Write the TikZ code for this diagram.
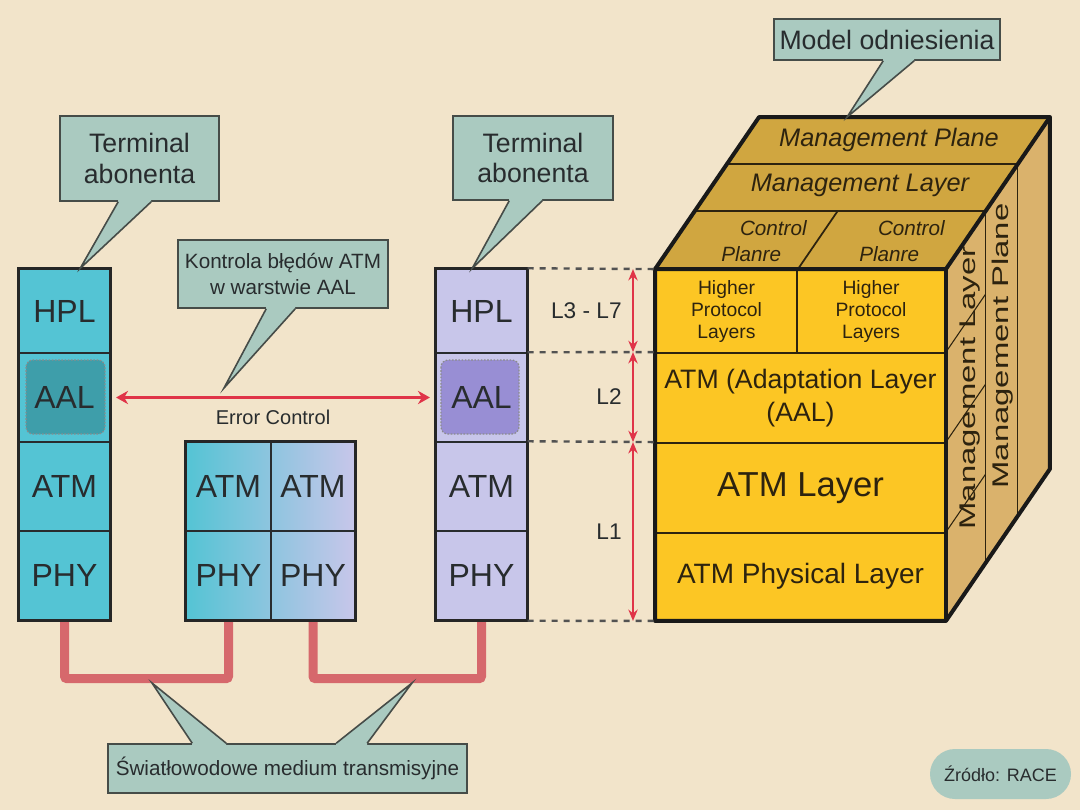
\documentclass[tikz,border=0pt]{standalone}
\usepackage{fontspec}
\setmainfont{Liberation Sans}
\usetikzlibrary{arrows.meta,calc,backgrounds}
\definecolor{bgbeige}{RGB}{242,228,202}
\definecolor{callfill}{RGB}{170,202,192}
\definecolor{calldraw}{RGB}{70,76,72}
\definecolor{tealcell}{RGB}{84,196,212}
\definecolor{tealdark}{RGB}{62,158,170}
\definecolor{lavcell}{RGB}{200,198,234}
\definecolor{lavdark}{RGB}{152,142,212}
\definecolor{cubefront}{RGB}{252,198,36}
\definecolor{cubetop}{RGB}{208,166,64}
\definecolor{cubeside}{RGB}{218,178,108}
\definecolor{errred}{RGB}{224,52,72}
\definecolor{fiberred}{RGB}{214,104,108}
\definecolor{inkgray}{RGB}{40,44,46}
\definecolor{cubeink}{RGB}{45,35,15}
\colorlet{tealmid}{tealcell!50!lavcell}
\newcommand{\pw}{0.75pt}
\newcommand{\fsz}[2]{\fontsize{#1}{#2}\selectfont}
% callout tail: node anchor, base x1, base x2, tip, inward shift
\newcommand{\calltail}[5]{%
  \fill[callfill] ($(#1)+(#2,#5)$) -- ($(#1)+(#2,0)$) -- (#4) -- ($(#1)+(#3,0)$) -- ($(#1)+(#3,#5)$) -- cycle;
  \draw[calltip] ($(#1)+(#2,0)$) -- (#4) -- ($(#1)+(#3,0)$);}
\tikzset{
  cell/.style={draw=inkgray, line width=1.1pt, minimum width=91*\pw, inner sep=0pt, text=inkgray, font=\fsz{24pt}{28pt}},
  rowplain/.style={},
  aalrim/.style={draw=black!45, line width=0.9pt, dash pattern=on 1.2pt off 1.2pt, rounded corners=7*\pw},
  aalleft/.style={path picture={\draw[aalrim, fill=tealdark] ([xshift=7*\pw,yshift=-7*\pw]path picture bounding box.north west) rectangle ([xshift=-5*\pw,yshift=8*\pw]path picture bounding box.south east);}},
  aalright/.style={path picture={\draw[aalrim, fill=lavdark] ([xshift=5*\pw,yshift=-7*\pw]path picture bounding box.north west) rectangle ([xshift=-8*\pw,yshift=8*\pw]path picture bounding box.south east);}},
  stackrim/.style={draw=black!85, line width=2.6pt},
  cubecell/.style={draw=cubeink, line width=1.4pt, fill=cubefront, inner sep=0pt, text=cubeink, align=center},
  cubeline/.style={draw=cubeink, line width=1.3pt},
  sideline/.style={draw=cubeink, line width=0.8pt},
  cuberim/.style={draw=black!90, line width=3pt, line join=round},
  topfont/.style={text=cubeink, font=\fsz{19pt}{22pt}\itshape, inner sep=0pt},
  sidefont/.style={text=cubeink, font=\fsz{17pt}{20pt}, inner sep=0pt, rotate=90},
  callbox/.style={draw=calldraw, fill=callfill, line width=1.2pt, inner sep=0pt, text=inkgray, align=center},
  calltip/.style={draw=calldraw, line width=1.2pt, line join=miter},
  pill/.style={fill=callfill, inner sep=0pt, text=inkgray, font=\fsz{13.5pt}{16pt}},
  guide/.style={draw=black!68, line width=1.8pt, dash pattern=on 4.5pt off 4.5pt},
  levarr/.style={{Stealth[length=8.5pt,width=7pt]}-{Stealth[length=8.5pt,width=7pt]}, errred, line width=1.3pt},
  errarr/.style={{Stealth[length=9pt,width=10pt]}-{Stealth[length=9pt,width=10pt]}, errred, line width=2.2pt},
  fiber/.style={draw=fiberred, line width=6.75pt, rounded corners=2pt},
  levlab/.style={text=inkgray, font=\fsz{17pt}{20pt}},
}
\begin{document}
\begin{tikzpicture}[x=0.75pt, y=-0.75pt]
\useasboundingbox (0,0) rectangle (1080,810);

% the two terminals
\foreach \lab/\ya/\yb/\sty in {HPL/269/353/rowplain, AAL/353/442/aalleft, ATM/442/531/rowplain, PHY/531/620/rowplain}
  \node[cell, fill=tealcell, \sty, minimum height={(\yb-\ya)*\pw}] (l\lab) at (64.5,{(\ya+\yb)/2}) {\lab};
\foreach \lab/\ya/\yb/\sty in {HPL/269/353/rowplain, AAL/353/442/aalright, ATM/442/531/rowplain, PHY/531/620/rowplain}
  \node[cell, fill=lavcell, \sty, minimum height={(\yb-\ya)*\pw}] (r\lab) at (481.5,{(\ya+\yb)/2}) {\lab};
\draw[stackrim] (lHPL.north west) rectangle (lPHY.south east);
\draw[stackrim] (rHPL.north west) rectangle (rPHY.south east);

% switch in the middle
\node[cell, minimum width=85*\pw, minimum height=89*\pw, left color=tealcell, right color=tealmid] (mATMa) at (228.5,486.5) {ATM};
\node[cell, minimum width=84*\pw, minimum height=89*\pw, left color=tealmid, right color=lavcell] (mATMb) at (313,486.5) {ATM};
\node[cell, minimum width=85*\pw, minimum height=89*\pw, left color=tealcell, right color=tealmid] (mPHYa) at (228.5,575.5) {PHY};
\node[cell, minimum width=84*\pw, minimum height=89*\pw, left color=tealmid, right color=lavcell] (mPHYb) at (313,575.5) {PHY};
\draw[stackrim] (mATMa.north west) rectangle (mPHYb.south east);

% reference model cube
\node[cubecell, minimum width=141*\pw, minimum height=83*\pw, font=\fsz{14.5pt}{16.5pt}] (cHPa) at (726.5,311.5) {Higher\\Protocol\\Layers};
\node[cubecell, minimum width=148*\pw, minimum height=83*\pw, font=\fsz{14.5pt}{16.5pt}] (cHPb) at (871,311.5) {Higher\\Protocol\\Layers};
\node[cubecell, minimum width=289*\pw, minimum height=90*\pw, font=\fsz{20pt}{25pt}] (cAAL) at (800.5,398) {ATM (Adaptation Layer\\(AAL)};
\node[cubecell, minimum width=289*\pw, minimum height=90*\pw, font=\fsz{26pt}{30pt}] (cATM) at (800.5,488) {ATM Layer};
\node[cubecell, minimum width=289*\pw, minimum height=87*\pw, font=\fsz{21pt}{24pt}] (cPHY) at (800.5,576.5) {ATM Physical Layer};
\coordinate (dp) at (104,-152);
\fill[cubetop] (cHPa.north west) -- ++(dp) -- ($(cHPb.north east)+(dp)$) -- (cHPb.north east) -- cycle;
\fill[cubeside] (cHPb.north east) -- ++(dp) -- ($(cPHY.south east)+(dp)$) -- (cPHY.south east) -- cycle;
\foreach \t in {0.38,0.69} {
  \draw[cubeline] ($(cHPa.north west)+\t*(dp)$) -- ($(cHPb.north east)+\t*(dp)$);
  \draw[sideline] ($(cHPb.north east)+\t*(dp)$) -- ($(cPHY.south east)+\t*(dp)$);
}
\draw[cubeline] (cHPa.north east) -- ($(cHPa.north east)+0.38*(dp)$);
\foreach \c in {cAAL,cATM,cPHY}
  \draw[sideline] (\c.north east) -- ($(\c.north east)+0.38*(dp)$);
\draw[cuberim] (cHPa.north west) -- ++(dp) -- ($(cHPb.north east)+(dp)$) -- ($(cPHY.south east)+(dp)$) -- (cPHY.south east) -- (cPHY.south west) -- cycle;
\draw[cuberim] (cHPa.north west) -- (cHPb.north east) -- ++(dp);
\draw[cuberim] (cHPb.north east) -- (cPHY.south east);
\node[topfont] (tMP) at (889,140) {Management Plane};
\node[topfont] (tML) at (860,185) {Management Layer};
\node[topfont, font=\fsz{15.5pt}{19pt}\itshape, align=left] (tCPa) at (764,241) {\hspace*{14pt}Control\\Planre};
\node[topfont, font=\fsz{15.5pt}{19pt}\itshape, align=left] (tCPb) at (902,241) {\hspace*{14pt}Control\\Planre};
\node[sidefont] (sML) at (970,388) {\scalebox{1.45}[1]{Management Layer}};
\node[sidefont] (sMP) at (1003,346) {\scalebox{1.45}[1]{Management Plane}};

% layer guides
\coordinate (arrx) at (633,0);
\draw[guide] (rHPL.north east) -- (cHPa.north west);
\draw[guide] (rAAL.north east) -- (cAAL.north west);
\draw[guide] (rATM.north east) -- (cATM.north west);
\draw[guide] (rPHY.south east) -- (cPHY.south west);
\draw[levarr] (cHPa.north west -| arrx) -- (cAAL.north west -| arrx) node[levlab, midway, left=6*\pw] (nL37) {L3 - L7};
\draw[levarr] (cAAL.north west -| arrx) -- (cATM.north west -| arrx) node[levlab, midway, left=6*\pw] (nL2) {L2};
\draw[levarr] (cATM.north west -| arrx) -- (cPHY.south west -| arrx) node[levlab, midway, left=6*\pw] (nL1) {L1};

% error control
\draw[errarr, shorten <=4pt, shorten >=4pt] (lAAL.east) -- (rAAL.west)
  node[midway, yshift=-20*\pw, text=inkgray, font=\fsz{15pt}{18pt}] (nErr) {Error Control};

% callouts
\coordinate (tipL) at ($(lHPL.north west)+(62,0)$);
\coordinate (tipR) at ($(rHPL.north west)+(37,0)$);
\coordinate (tipK) at (224,388);
\coordinate (tipM) at ($(cHPa.north west)+(dp)+(88,0)$);
\coordinate (tipF1) at (152,683);
\coordinate (tipF2) at (412,683);
\node[callbox, minimum width=159*\pw, minimum height=85*\pw, font=\fsz{20pt}{23pt}] (tL) at (139.5,158.5) {Terminal\\abonenta};
\calltail{tL.south west}{59}{92}{tipL}{-3}
\node[callbox, minimum width=160*\pw, minimum height=84*\pw, font=\fsz{20pt}{23pt}] (tR) at (533,158) {Terminal\\abonenta};
\calltail{tR.south west}{57}{90}{tipR}{-3}
\node[callbox, minimum width=210*\pw, minimum height=68*\pw, font=\fsz{15.5pt}{19pt}] (kB) at (283,274) {Kontrola błędów ATM\\w warstwie AAL};
\calltail{kB.south west}{89}{118}{tipK}{-3}
\node[callbox, minimum width=226*\pw, minimum height=41*\pw, font=\fsz{20pt}{23pt}] (mB) at (887,39.5) {Model odniesienia};
\calltail{mB.south west}{110}{141}{tipM}{-3}
\node[callbox, minimum width=359*\pw, minimum height=49*\pw, font=\fsz{15.5pt}{18pt}] (sB) at (287.5,768.5) {Światłowodowe medium transmisyjne};
\calltail{sB.north west}{85}{119}{tipF1}{3}
\calltail{sB.north west}{229}{260}{tipF2}{3}
\node[pill, minimum width=141*\pw, minimum height=50*\pw, rounded corners=25*\pw] (zR) at (1000.5,774) {Źródło: RACE};

\begin{pgfonlayer}{background}
  \fill[bgbeige] (0,0) rectangle (1080,810);
  \draw[fiber] (lPHY.south) -- ++(0,58) -| (mPHYa.south);
  \draw[fiber] (mPHYb.south) -- ++(0,58) -| (rPHY.south);
\end{pgfonlayer}
\end{tikzpicture}
\end{document}
